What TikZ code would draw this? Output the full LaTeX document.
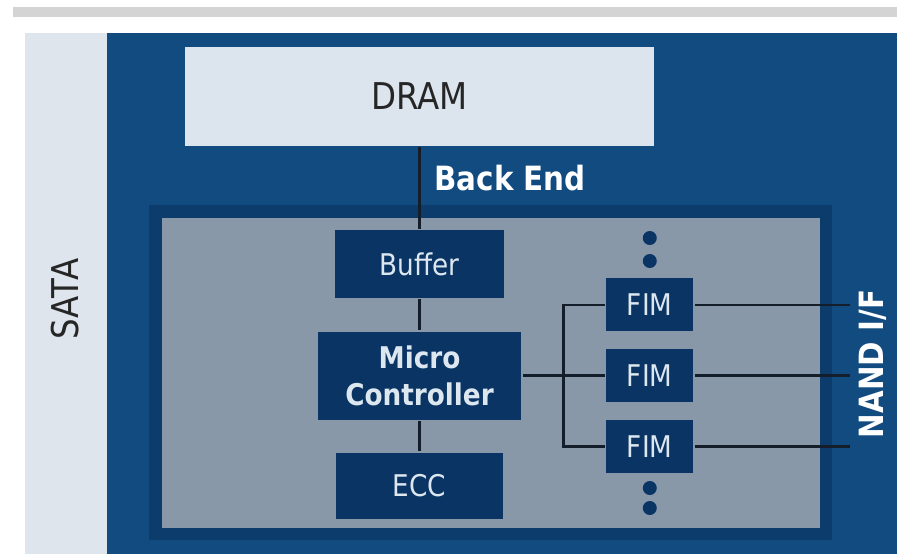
\documentclass[tikz,border=0pt]{standalone}
\usepackage{fontspec}
\setmainfont{DejaVu Sans}[FakeStretch=0.88]
\usepackage{tikz}
\usetikzlibrary{positioning, calc}

\definecolor{topband}{HTML}{D4D4D4}
\definecolor{sataback}{HTML}{DFE5EC}
\definecolor{ssdblue}{HTML}{114B80}
\definecolor{frameblue}{HTML}{0B3C6C}
\definecolor{ctrlgray}{HTML}{8898A9}
\definecolor{blockblue}{HTML}{0A3463}
\definecolor{dramfill}{HTML}{DCE5EE}
\definecolor{blocktext}{HTML}{DDE7F0}
\definecolor{wire}{HTML}{141E2A}

\begin{document}
\begin{tikzpicture}[x=0.02cm, y=-0.02cm, line width=1.6pt, draw=wire,
  blk node/.style={rectangle, fill=blockblue, text=blocktext, inner sep=0pt,
    font=\fontsize{17}{20}\selectfont},
  fim node/.style={blk node, minimum width=1.74cm, minimum height=1.06cm},
  mem node/.style={rectangle, fill=dramfill, text=black!85, inner sep=0pt,
    minimum width=9.38cm, minimum height=1.98cm, font=\fontsize{21}{24}\selectfont},
  side label/.style={rotate=90, inner sep=0pt}]
  \useasboundingbox (0,0) rectangle (897,554);

  % panels
  \fill[white] (0,0) rectangle (897,554);
  \fill[topband] (13,7) rectangle (897,17);
  \fill[sataback] (25,33) rectangle (107,554);
  \fill[ssdblue] (107,33) rectangle (897,554);
  \fill[frameblue] (149,205) rectangle (832,540);
  \fill[ctrlgray] (162,218) rectangle (820,528);

  \node[mem node] (dram) at (419.5,96.5) {DRAM};
  \node[anchor=west, text=white, inner sep=0pt,
    font=\fontsize{19}{22}\selectfont\bfseries] (be) at (433,178) {Back End};

  \node[blk node, minimum width=3.38cm, minimum height=1.36cm] (buf) at (419.5,264) {Buffer};
  \node[blk node, minimum width=4.08cm, minimum height=1.76cm, align=center,
    font=\fontsize{17}{21}\selectfont\bfseries, below=0.62cm of buf] (mc) {Micro\\Controller};
  \node[blk node, minimum width=3.34cm, minimum height=1.32cm, below=0.6cm of mc] (ecc) {ECC};

  \node[fim node, right=1.64cm of mc] (fim2) {FIM};
  \node[fim node, above=0.3cm of fim2] (fim1) {FIM};
  \node[fim node, below=0.3cm of fim2] (fim3) {FIM};

  \node[side label, text=black!85, font=\fontsize{21}{24}\selectfont] (sata) at (65,299) {SATA};
  \node[side label, text=white, font=\fontsize{19}{22}\selectfont\bfseries] (nand) at (873,364) {NAND I/F};

  \coordinate (nif) at (850,0);

  % wires
  \draw (dram) -- (buf);
  \draw (buf) -- (mc);
  \draw (mc) -- (ecc);
  \draw (mc.east) -- (fim2.west);
  \draw (fim1.west) -| ($(mc.east)!.5!(fim2.west)$) |- (fim3.west);
  \foreach \f in {fim1,fim2,fim3}
    \draw (\f.east) -- (\f.east -| nif);

  % more FIMs above and below
  \foreach \y in {238,261,488,508}
    \fill[blockblue] (fim1.north |- 0,\y) circle (7);
\end{tikzpicture}
\end{document}
